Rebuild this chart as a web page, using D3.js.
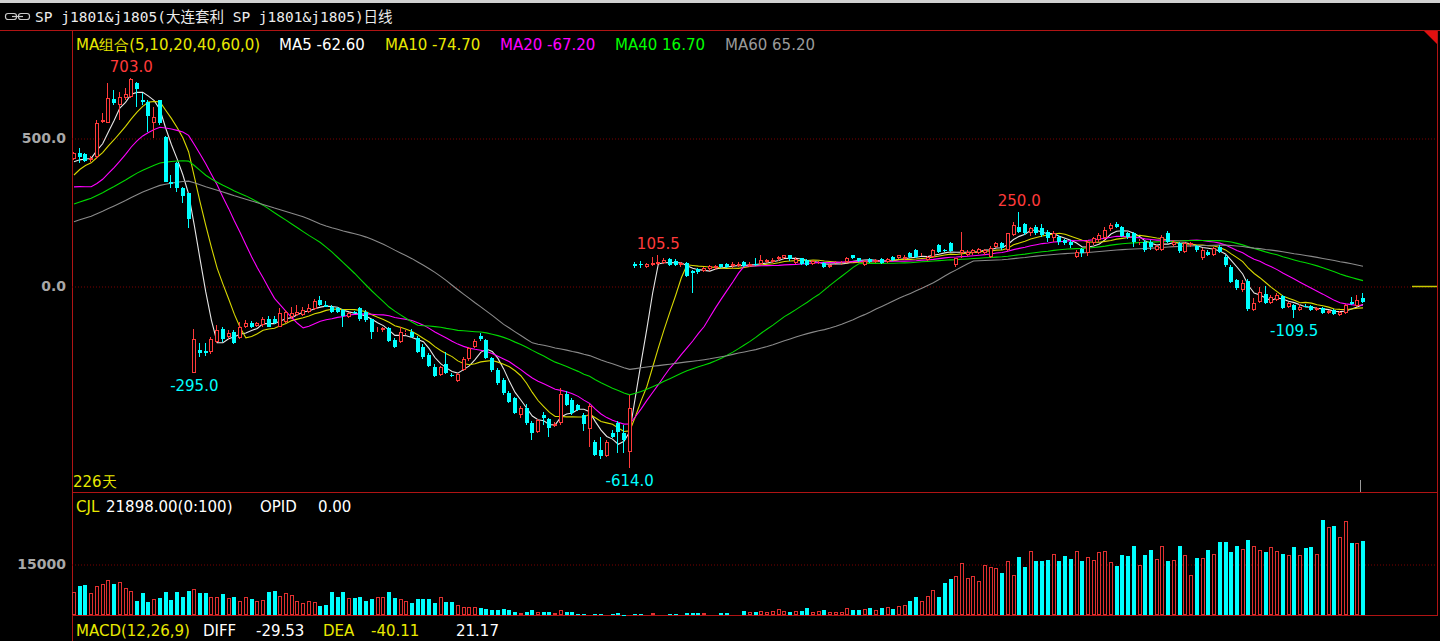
<!DOCTYPE html>
<html><head><meta charset="utf-8">
<script src="https://cdn.jsdelivr.net/npm/d3@7/dist/d3.min.js"></script>
<style>html,body{margin:0;padding:0;background:#000;overflow:hidden}</style>
</head><body><svg id="c" width="1440" height="641"></svg>
<script>
// ---------- data ----------
// closes of the 59 sessions before the visible window (estimated from the MA start values)
const priorCloses=[40,52,60,55,70,78,85,80,92,100,95,105,112,108,118,125,120,130,158,157,
165,172,180,175,190,198,205,200,212,220,215,228,235,232,245,250,258,262,265,273,
420,435,428,330,280,240,220,200,190,207,250,290,340,370,400,405,410,420,417];
const opens=[428,449,445,425,436,555,549,631,611,634,640,687,628,622,552,628,504,352,416,330,
313,-294,-216,-218,-222,-188,-146,-171,-155,-177,-137,-124,-135,-133,-110,-113,-137,-121,-104,-98,
-98,-87,-79,-47,-64,-70,-75,-81,-104,-87,-75,-87,-113,-150,-150,-143,-182,-188,-160,-154,
-177,-205,-233,-275,-301,-264,-299,-320,-284,-248,-205,-169,-182,-244,-284,-318,-363,-380,-436,-413,
-464,-492,-436,-450,-473,-462,-365,-385,-402,-436,-484,-526,-554,-574,-496,-462,-498,-560,74,75,
65,71,75,78,90,86,70,77,50,56,52,58,60,74,75,66,68,82,67,76,
76,82,82,90,93,104,78,93,88,76,78,79,63,74,74,82,104,93,71,90,
82,90,82,99,93,90,110,121,104,88,99,138,122,146,71,110,105,110,110,110,
97,133,144,122,172,200,209,178,200,195,183,161,167,155,150,99,124,110,144,155,
161,191,209,200,178,178,149,150,150,122,122,178,138,146,116,138,135,93,116,105,
133,99,65,20,-14,18,-81,-53,-27,-56,-47,-34,-72,-64,-81,-67,-68,-81,-75,-92,
-81,-98,-92,-53,-68,-42];
const highs=[452,465,450,440,561,583,687,662,657,668,703,690,651,628,606,630,506,375,420,335,
313,-145,-194,-194,-171,-132,-137,-149,-149,-121,-115,-118,-120,-105,-100,-100,-75,-80,-70,-64,
-70,-60,-45,-34,-50,-65,-70,-78,-88,-84,-70,-82,-110,-140,-138,-138,-175,-140,-148,-145,
-170,-195,-225,-265,-270,-222,-295,-295,-240,-205,-180,-158,-178,-240,-278,-310,-355,-375,-405,-400,
-455,-450,-425,-445,-460,-346,-355,-380,-398,-430,-400,-520,-510,-520,-485,-455,-470,-368,80,85,
78,99,105.5,95,94,90,82,80,54,62,64,70,72,76,78,80,80,85,80,93,
104,92,94,100,104,105,99,96,92,88,84,82,74,83,84,98,105,96,89,93,
92,93,93,102,105,104,115,124,110,100,125,142,126,150,96,183,120,125,130,126,
136,150,148,180,215,250,212,200,205,209,190,185,172,160,155,120,128,155,165,178,
200,212,215,204,182,182,160,155,155,140,172,185,155,150,148,148,140,127,120,133,
140,105,70,25,20,22,-40,-5,0,-30,-25,-30,-55,-60,-62,-60,-63,-70,-72,-80,
-78,-85,-60,-36,-30,-25];
const lows=[425,414,418,420,430,549,549,611,561,628,636,606,611,521,499,543,350,330,319,279,
195,-295,-241,-237,-230,-194,-188,-180,-196,-180,-143,-143,-140,-138,-140,-130,-140,-125,-110,-100,
-100,-90,-82,-68,-72,-92,-92,-137,-108,-96,-118,-120,-180,-155,-154,-190,-210,-192,-165,-175,
-225,-245,-275,-308,-305,-296,-306,-325,-288,-252,-208,-185,-248,-290,-335,-368,-395,-432,-445,-470,
-520,-497,-470,-509,-478,-470,-406,-435,-422,-490,-543,-575,-586,-578,-515,-565,-565,-614,62,62,
60,66,70,74,68,66,65,30,-25,42,48,52,55,60,60,62,64,64,64,68,
72,78,78,86,90,86,75,72,66,72,74,60,60,70,70,78,90,82,67,78,
78,76,78,85,90,87,93,93,100,84,95,112,116,114,65,93,100,105,107,106,
94,128,122,118,168,178,172,170,172,165,150,150,140,138,130,93,97,100,140,150,
155,185,195,165,160,133,140,115,120,118,118,145,133,113,110,133,116,88,100,100,
110,65,10,-14,-20,-85,-85,-58,-62,-60,-52,-78,-75,-109.5,-85,-72,-85,-84,-95,-96,
-98,-100,-95,-65,-70,-56];
const closes=[448,436,423,431,552,561,634,619,640,647,700,664,622,574,572,549,352,344,330,304,
225,-179,-225,-225,-180,-149,-180,-158,-192,-137,-126,-137,-126,-110,-137,-126,-92,-87,-92,-87,
-81,-75,-50,-64,-70,-87,-87,-101,-92,-92,-110,-115,-154,-148,-142,-185,-205,-154,-154,-171,
-222,-241,-270,-304,-275,-293,-302,-298,-245,-211,-186,-180,-244,-284,-329,-363,-391,-430,-413,-464,
-498,-453,-447,-481,-467,-365,-402,-430,-419,-466,-405,-571,-573,-526,-511,-492,-520,-413,68,70,
74,79,82,88,72,72,78,34,44,48,60,66,68,63,64,74,76,67,76,71,
87,88,88,97,104,90,90,76,71,85,79,63,71,79,79,94,93,86,86,82,
88,79,90,88,104,99,97,97,106,97,121,116,120,119,93,122,116,122,124,122,
129.5,144,127,178,206,183.5,178,195,178,172,161,178,150,144,138.5,116,110,150,161,172,
189,206,198,169,167,150,151,122,133,135,167,150,150,119,144,144,122,122,105,127,
116,71,15,-8,9,-79,-56,-19,-59,-36,-30,-75,-59,-81,-70,-68,-81,-75,-92,-83,
-95,-87,-64,-61,-47,-53];
const volumes=[6860,8530,8820,6370,8530,9110,10290,9110,9700,8040,7150,4120,6370,3820,4610,5100,6660,4410,6660,5390,
6960,7740,6570,6570,5200,5200,6080,4900,5200,4020,5200,4700,4020,4410,6860,7060,5690,6370,5780,4120,
3430,4020,3820,2650,2940,6660,5390,6660,5000,5100,5200,4120,4800,5390,5200,6660,5100,4800,4210,3430,
4610,4610,4610,3630,5200,3720,3720,2940,2350,2350,2350,1960,1860,1470,1470,1760,1370,980,690,980,
1370,880,880,880,490,1370,880,790,200,290,290,290,200,290,290,490,100,100,290,290,
290,490,390,200,200,200,200,490,490,490,490,390,390,490,490,390,390,1270,980,980,
1270,980,1270,1860,1270,790,1270,1270,2150,980,1270,1570,980,980,980,2150,1570,1570,1860,2150,
1570,2150,2350,1860,2650,2940,4120,5200,4020,5490,7250,5200,9310,10580,11370,15390,10780,11370,10000,14800,
14010,13720,12250,15880,11660,17050,14010,18720,15880,15880,16170,17850,15880,17350,16460,18720,15880,16950,16070,18420,
18910,15580,14500,17640,17350,20190,14700,17640,19010,16460,20380,15880,16170,20190,17550,11660,16760,16760,19010,17940,
21560,21560,18520,20190,19300,22150,20190,19010,18520,19890,18820,17940,17640,19890,17640,19600,19890,17940,28030,25770,
26070,22930,27730,21270,21170,21898];
const maPeriods=[5,10,20,40,60];
const maNames=["MA5","MA10","MA20","MA40","MA60"];
const maValues=["-62.60","-74.70","-67.20","16.70","65.20"];
const priceTicks=[0,500];
const volTicks=[15000];
const markIndex=[10,102,165,21,97,213];
const markKind=["high","high","high","low","low","low"];
const titleText="SP j1801&j1805(大连套利 SP j1801&j1805)日线";

// ---------- drawing ----------
const RED="#ff3a3a", CYAN="#00ffff", FRAME="#b01414", GRID="#7a0000";
const maColors=["#e6e6e6","#d8d800","#ff00ff","#00d800","#8a8a8a"];
const legendColors=["#ffffff","#e8e800","#ff00ff","#00ff00","#9a9a9a"];
const svg=d3.select("#c");
const n=closes.length;
const x=d3.scaleLinear().domain([0,n-1]).range([74,1363]);
const y=d3.scaleLinear().domain([0,500]).range([286,138]);
const yv=d3.scaleLinear().domain([0,15000]).range([615,564]);
const F="'DejaVu Sans',sans-serif";

svg.append("rect").attr("width",1440).attr("height",641).attr("fill","#000");
svg.append("rect").attr("width",1440).attr("height",3).attr("fill","#d0d0d0");

// title
const ic=svg.append("g").attr("fill","none").attr("stroke","#c8c8c8").attr("stroke-width",1.2);
ic.append("rect").attr("x",5.5).attr("y",13.5).attr("width",11).attr("height",6).attr("rx",2.5);
ic.append("rect").attr("x",18.5).attr("y",13.5).attr("width",11).attr("height",6).attr("rx",2.5);
ic.append("line").attr("x1",12).attr("x2",23).attr("y1",16.5).attr("y2",16.5);
svg.append("text").attr("x",35).attr("y",22).attr("fill","#ececec")
  .style("font-family","'DejaVu Sans Mono','Noto Sans CJK SC',monospace").style("font-size","14.5px").text(titleText);

// frame
svg.append("line").attr("x1",0).attr("x2",1440).attr("y1",30.5).attr("y2",30.5).attr("stroke",FRAME);
svg.append("line").attr("x1",72.5).attr("x2",72.5).attr("y1",31).attr("y2",641).attr("stroke",FRAME);
svg.append("line").attr("x1",1437.5).attr("x2",1437.5).attr("y1",31).attr("y2",616).attr("stroke",FRAME);
svg.append("line").attr("x1",72).attr("x2",1438).attr("y1",492.5).attr("y2",492.5).attr("stroke",FRAME);
svg.append("line").attr("x1",72).attr("x2",1438).attr("y1",615.5).attr("y2",615.5).attr("stroke",FRAME);
svg.append("path").attr("d","M1424,31L1437,31L1437,44Z").attr("fill","#e01010");

// grids + axes
function gridAxis(scale,ticks,fmt){
  const g=svg.append("g").attr("transform","translate(72,0)");
  g.call(d3.axisRight(scale).tickValues(ticks).tickSize(1365).tickFormat(""));
  g.select(".domain").remove();
  g.selectAll("line").attr("stroke",GRID).attr("stroke-dasharray","1,2").attr("transform","translate(0,0.5)");
  const a=svg.append("g").attr("transform","translate(72,0)");
  a.call(d3.axisLeft(scale).tickValues(ticks).tickSize(0).tickPadding(6).tickFormat(fmt));
  a.select(".domain").remove();
  a.selectAll("text").attr("fill","#a8a8a8").style("font-family",F).style("font-size","14px").style("font-weight","bold");
}
gridAxis(y,priceTicks,d3.format(".1f"));
gridAxis(yv,volTicks,d3.format("d"));

// moving averages
const full=priorCloses.concat(closes);
const off=priorCloses.length;
svg.append("clipPath").attr("id","cm").append("rect").attr("x",73).attr("y",31).attr("width",1364).attr("height",461);
const gm=svg.append("g").attr("clip-path","url(#cm)");
maPeriods.forEach((p,k)=>{
  const vals=d3.range(n).map(i=>d3.mean(full.slice(i+off-p+1,i+off+1)));
  gm.append("path").datum(vals).attr("fill","none").attr("stroke",maColors[k]).attr("stroke-width",1.1)
    .attr("d",d3.line().x((d,i)=>x(i)).y(d=>y(d)));
});

// candles
const gc=svg.append("g").attr("clip-path","url(#cm)");
d3.range(n).forEach(i=>{
  const cx=Math.round(x(i)), up=closes[i]>=opens[i];
  const col=up?RED:CYAN;
  const top=Math.round(y(Math.max(opens[i],closes[i]))), bot=Math.round(y(Math.min(opens[i],closes[i])));
  const hy=Math.round(y(highs[i])), ly=Math.round(y(lows[i]));
  const wx=cx-0.5;
  if(up){
    if(hy<top) gc.append("line").attr("x1",wx).attr("x2",wx).attr("y1",hy).attr("y2",top).attr("stroke",col);
    if(ly>bot) gc.append("line").attr("x1",wx).attr("x2",wx).attr("y1",bot).attr("y2",ly).attr("stroke",col);
    gc.append("rect").attr("x",cx-1.5).attr("y",top+0.5).attr("width",3).attr("height",Math.max(0,bot-top-1))
      .attr("fill","#000").attr("stroke",col);
  } else {
    gc.append("line").attr("x1",wx).attr("x2",wx).attr("y1",hy).attr("y2",ly).attr("stroke",col);
    gc.append("rect").attr("x",cx-2).attr("y",top).attr("width",4).attr("height",Math.max(1,bot-top)).attr("fill",col);
  }
});

// extreme labels
markIndex.forEach((i,k)=>{
  const hi=markKind[k]==="high";
  const v=hi?highs[i]:lows[i];
  svg.append("text").attr("x",x(i)).attr("y",hi?y(v)-6:y(v)+18).attr("text-anchor","middle")
    .attr("fill",hi?RED:CYAN).style("font-family",F).style("font-size","15px").text(v.toFixed(1));
});

// right-edge marker & cursor tick
svg.append("line").attr("x1",1412).attr("x2",1437).attr("y1",286.5).attr("y2",286.5).attr("stroke","#c8c800").attr("stroke-width",1.5);
svg.append("line").attr("x1",1360.5).attr("x2",1360.5).attr("y1",480).attr("y2",492).attr("stroke","#9a9a9a");

// volume bars
const gv=svg.append("g");
d3.range(n).forEach(i=>{
  const cx=Math.round(x(i)), up=closes[i]>=opens[i];
  const t=Math.round(yv(volumes[i]));
  if(up) gv.append("rect").attr("x",cx-1.5).attr("y",t+0.5).attr("width",3).attr("height",Math.max(0,615-t-1))
    .attr("fill","#000").attr("stroke","#e03030");
  else gv.append("rect").attr("x",cx-2).attr("y",t).attr("width",4).attr("height",Math.max(1,615-t)).attr("fill",CYAN);
});

// legend texts
function txt(xp,yp,s,c){svg.append("text").attr("x",xp).attr("y",yp).attr("fill",c).style("font-family",F).style("font-size","15px").text(s);}
txt(76,50,"MA组合("+maPeriods.join(",")+",0)","#e8e800");
const lx=[279,385,500,615,725];
maNames.forEach((m,k)=>txt(lx[k],50,m+" "+maValues[k],legendColors[k]));
txt(73,487,"226天","#e8e800");
txt(76,512,"CJL","#e8e800");
txt(106,512,d3.format(".2f")(volumes[n-1])+"(0:100)","#ffffff");
txt(260,512,"OPID","#ffffff");
txt(318,512,"0.00","#ffffff");
txt(76,636,"MACD(12,26,9)","#e8e800");
txt(203,636,"DIFF","#ffffff");
txt(256,636,"-29.53","#ffffff");
txt(323,636,"DEA","#e8e800");
txt(371,636,"-40.11","#e8e800");
txt(456,636,"21.17","#ffffff");
</script></body></html>
